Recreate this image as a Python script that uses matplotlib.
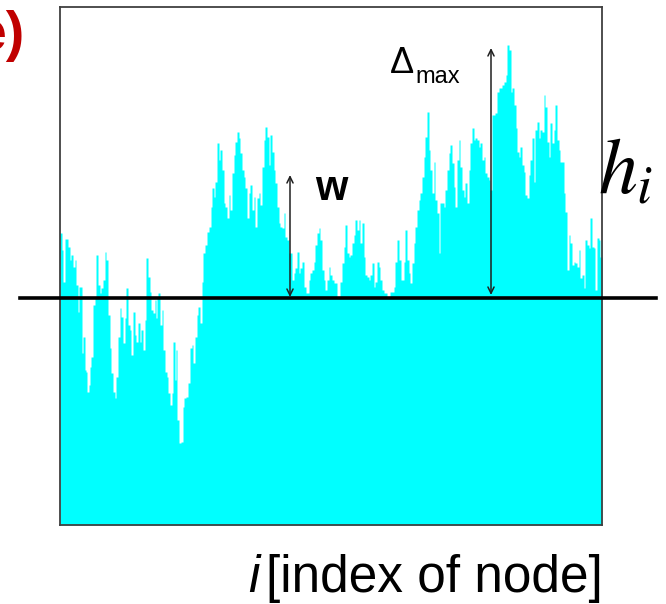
import numpy as np
import matplotlib.pyplot as plt

# surface profile: node index and height h_i relative to the mean level
nodes = [0, 1, 2, 3, 5, 8, 10, 11, 13, 15, 16, 18, 19, 22, 23, 25, 26, 27, 29, 30,
         31, 33, 35, 36, 38, 40, 41, 43, 45, 46, 48, 50, 51, 53, 55, 56, 58, 60, 61, 63,
         65, 66, 68, 70, 71, 73, 75, 76, 78, 80, 81, 83, 85, 86, 88, 90, 91, 93, 95, 96,
         97, 98, 100, 102, 103, 105, 107, 108, 110, 112, 113, 115, 116, 117, 119, 121, 123, 124, 126, 128,
         130, 132, 133, 135, 137, 138, 140, 142, 143, 145, 147, 149, 151, 152, 154, 155, 157, 159, 160, 162,
         164, 165, 167, 169, 170, 172, 174, 175, 177, 179, 180, 182, 184, 185, 187, 189, 190, 192, 194, 195,
         197, 199, 200, 202, 204, 205, 207, 209, 210, 212, 214, 215, 217, 219, 220, 222, 224, 225, 227, 229,
         230, 232, 234, 235, 237, 239, 240, 242, 244, 246, 249, 250, 252, 254, 255, 257, 259, 260, 262, 264,
         265, 267, 269, 270, 272, 274, 277, 280, 282, 284, 285, 287, 289, 290, 292, 294, 295, 297, 299, 300,
         302, 304, 305, 307, 309, 310, 312, 314, 315, 317, 319, 320, 322, 324, 327, 330, 334, 335, 337, 339,
         341, 344, 345, 347, 349, 350, 352, 354, 355, 357, 359, 360, 362, 364, 365, 367, 369, 370, 372, 374,
         375, 377, 379, 380, 382, 384, 385, 387, 389, 390, 392, 394, 395, 397, 399, 400, 402, 404, 405, 407,
         409, 410, 412, 414, 415, 417, 419, 420, 422, 424, 425, 427, 429, 430, 432, 435, 437, 439, 440, 442,
         444, 446, 447, 449, 451, 452, 454, 456, 457, 459, 460, 462, 464, 465, 467, 469, 470, 472, 474, 475,
         477, 479, 480, 482, 484, 485, 487, 489, 490, 492, 494, 495, 497, 499, 500, 502, 504, 505, 507, 509,
         510, 512, 514, 515, 517, 519, 520, 522, 524, 525, 527, 529, 530, 532, 534, 535, 537, 539, 540, 542]
heights = [65, 65, 48, 16, 59, 51, 38, 43, 31, 38, 13, -14, 11, -55, -39, -72, -74, -94, -87, -69,
           -59, -7, 1, 43, 13, 5, 10, 18, 46, 38, -17, -50, -75, -94, -100, -79, -39, -10, -19, -45,
           -20, 10, -27, -32, -57, -14, -37, -44, -25, -44, -32, -52, -22, 40, 21, 6, -12, -15, -2, -20,
           1, 5, -27, -12, -52, -74, -79, -95, -107, -95, -44, -82, -52, -122, -145, -144, -109, -100, -99, -85,
           -50, -47, -65, -39, -17, -9, -25, 16, 45, 53, 66, 71, 91, 110, 101, 116, 155, 138, 148, 128,
           95, 91, 80, 103, 88, 125, 143, 156, 166, 160, 145, 128, 121, 110, 80, 105, 113, 88, 101, 71,
           100, 105, 93, 131, 158, 171, 161, 133, 163, 146, 128, 115, 91, 75, 71, 70, 85, 61, 58, 45,
           45, 18, 25, 30, 46, 25, 30, 36, 11, 5, 18, 25, 28, 36, 53, 65, 70, 58, 28, 18,
           8, 18, 31, 23, 18, 15, 1, 16, 35, 51, 73, 45, 41, 43, 55, 63, 78, 68, 78, 55,
           75, 41, 23, 21, 18, 23, 35, 11, 16, 36, 31, 18, 8, 5, 1, 6, 11, 36, 58, 38,
           18, 36, 68, 38, 25, 15, 35, 55, 71, 88, 98, 105, 121, 141, 161, 186, 148, 128, 105, 136,
           98, 85, 45, 95, 95, 91, 108, 128, 145, 153, 135, 111, 91, 138, 158, 131, 108, 101, 115, 95,
           128, 155, 170, 158, 160, 158, 151, 155, 138, 141, 125, 121, 118, 108, 183, 185, 206, 210, 210, 213,
           216, 223, 253, 248, 206, 210, 193, 170, 146, 141, 151, 133, 126, 103, 100, 123, 138, 160, 116, 168,
           176, 160, 168, 166, 203, 191, 156, 141, 175, 155, 168, 193, 158, 148, 136, 136, 105, 86, 28, 63,
           55, 33, 36, 35, 31, 48, 20, 23, 10, 58, 53, 50, 80, 51, 50, 8, 60, 58, 41, 41]

w_height = 123       # interface width w
delta_max = 250      # maximum height above the mean
w_node = 230
dmax_node = 431

fig = plt.figure(figsize=(6.66, 6.04), dpi=100)
ax = fig.add_axes([60 / 666, 79 / 604, 542 / 666, 518 / 604])
ax.set_xlim(0, 542)
ax.set_ylim(-227, 291)

ax.fill_between(nodes, -227, heights, step='post', color='#00ffff', lw=0)

for s in ax.spines.values():
    s.set_color('#404040')
    s.set_linewidth(1.3)
ax.set_xticks([])
ax.set_yticks([])

# mean level, running past the frame on both sides
ax.axhline(0, xmin=-40 / 542, xmax=596 / 542, color='black', lw=2.6, clip_on=False, zorder=5)

arrow = dict(arrowstyle='<->,head_length=0.45,head_width=0.22', color='#202020', lw=1.1,
             shrinkA=0, shrinkB=0)
ax.annotate('', xy=(w_node, 1), xytext=(w_node, w_height), arrowprops=arrow, zorder=6)
ax.annotate('', xy=(dmax_node, 3), xytext=(dmax_node, delta_max), arrowprops=arrow, zorder=6)

sans = ['Liberation Sans', 'DejaVu Sans']
ax.text(w_node + 25, 109, 'w', family=sans, fontsize=30, fontweight='bold', va='center', ha='left')
ax.text(330, 225, '\u0394', family=sans, fontsize=26, va='baseline', ha='left')
ax.text(355, 215, 'max', family=sans, fontsize=17, va='baseline', ha='left')

fig.text(25 / 666, 1 - 50 / 604, 'e)', family=sans, fontsize=40, fontweight='bold',
         color='#c00000', ha='right', va='baseline')

plt.rcParams['mathtext.fontset'] = 'stix'
fig.text(598 / 666, 1 - 193 / 604, r'$h_i$', fontsize=56, ha='left', va='baseline')

fig.text(248 / 666, 1 - 592 / 604, 'i', family=sans, fontsize=37, style='italic',
         ha='left', va='baseline')
fig.text(266 / 666, 1 - 592 / 604, '[index of node]', family=sans, fontsize=37,
         ha='left', va='baseline')

fig.savefig('out.png', dpi=100)
